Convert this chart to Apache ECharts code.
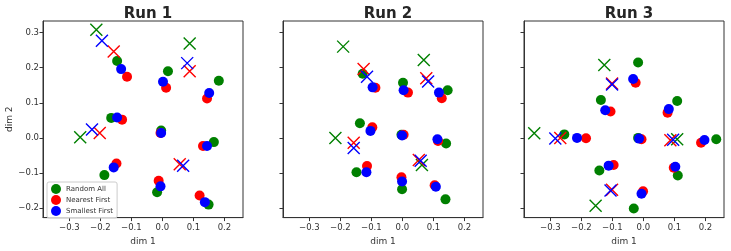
<!DOCTYPE html>
<html><head><meta charset="utf-8">
<script src="https://cdn.jsdelivr.net/npm/echarts@6/dist/echarts.min.js"></script>
<style>html,body{margin:0;padding:0;background:#fff}#c{width:731px;height:251px}</style>
</head><body><div id="c"></div>
<script>
const runTitles = ['Run 1', 'Run 2', 'Run 3'];
const methodNames = ['Random All', 'Nearest First', 'Smallest First'];
const methodColors = ['#008000', '#ff0000', '#0000ff'];
const xTicks = [-0.3, -0.2, -0.1, 0.0, 0.1, 0.2];
const yTicks = [-0.2, -0.1, 0.0, 0.1, 0.2, 0.3];

// Run 1
const run1RandomPts = [[-0.146,0.219],[0.018,0.190],[0.182,0.163],[-0.165,0.057],[-0.004,0.021],[0.166,-0.012],[-0.187,-0.106],[-0.017,-0.155],[0.149,-0.190]];
const run1NearestPts = [[-0.114,0.174],[0.012,0.143],[0.144,0.112],[-0.130,0.052],[-0.006,0.014],[0.131,-0.023],[-0.148,-0.073],[-0.012,-0.122],[0.120,-0.164]];
const run1SmallestPts = [[-0.133,0.196],[0.002,0.160],[0.151,0.128],[-0.146,0.058],[-0.004,0.014],[0.144,-0.023],[-0.157,-0.084],[-0.006,-0.138],[0.137,-0.183]];
const run1RandomCtr = [[-0.213,0.308],[0.088,0.269],[-0.265,0.002]];
const run1NearestCtr = [[-0.157,0.246],[0.088,0.190],[-0.202,0.014],[0.056,-0.075]];
const run1SmallestCtr = [[-0.195,0.277],[0.080,0.213],[-0.227,0.024],[0.067,-0.079]];

// Run 2
const run2RandomPts = [[-0.128,0.183],[0.002,0.157],[0.146,0.136],[-0.137,0.042],[-0.003,0.009],[0.141,-0.016],[-0.148,-0.098],[-0.001,-0.146],[0.139,-0.175]];
const run2NearestPts = [[-0.087,0.143],[0.018,0.129],[0.127,0.113],[-0.097,0.030],[0.004,0.009],[0.115,-0.009],[-0.114,-0.080],[-0.003,-0.112],[0.104,-0.135]];
const run2SmallestPts = [[-0.096,0.144],[0.004,0.136],[0.118,0.129],[-0.103,0.020],[-0.001,0.007],[0.113,-0.004],[-0.116,-0.098],[-0.001,-0.124],[0.108,-0.139]];
const run2RandomCtr = [[-0.191,0.260],[0.069,0.222],[-0.216,0.000],[0.063,-0.077]];
const run2NearestCtr = [[-0.125,0.196],[0.077,0.170],[-0.157,-0.014],[0.053,-0.063]];
const run2SmallestCtr = [[-0.114,0.174],[0.083,0.161],[-0.157,-0.029],[0.059,-0.065]];

// Run 3
const run3RandomPts = [[-0.017,0.215],[0.109,0.105],[-0.137,0.108],[-0.255,0.010],[-0.017,0.000],[0.235,-0.004],[0.111,-0.107],[-0.142,-0.093],[-0.031,-0.201]];
const run3NearestPts = [[-0.025,0.157],[0.078,0.072],[-0.106,0.075],[-0.185,-0.001],[-0.006,-0.004],[0.186,-0.014],[0.098,-0.085],[-0.096,-0.077],[-0.001,-0.152]];
const run3SmallestPts = [[-0.033,0.168],[0.082,0.082],[-0.123,0.079],[-0.214,0.000],[-0.014,-0.002],[0.197,-0.006],[0.103,-0.082],[-0.112,-0.079],[-0.006,-0.159]];
const run3RandomCtr = [[-0.126,0.208],[-0.352,0.013],[0.109,-0.004],[-0.154,-0.193]];
const run3NearestCtr = [[-0.101,0.155],[-0.268,0.000],[0.087,-0.007],[-0.101,-0.148]];
const run3SmallestCtr = [[-0.101,0.152],[-0.284,-0.002],[0.096,-0.005],[-0.106,-0.150]];

const runPts = [[run1RandomPts, run1NearestPts, run1SmallestPts],[run2RandomPts, run2NearestPts, run2SmallestPts],[run3RandomPts, run3NearestPts, run3SmallestPts]];
const runCtr = [[run1RandomCtr, run1NearestCtr, run1SmallestCtr],[run2RandomCtr, run2NearestCtr, run2SmallestCtr],[run3RandomCtr, run3NearestCtr, run3SmallestCtr]];

const lefts = [43, 283, 524];
const fam = 'DejaVu Sans';
const fmt = v => { const s = Math.abs(v) < 1e-9 ? '0.0' : Math.abs(v).toFixed(1); return v < -1e-9 ? '\u2212' + s : s; };

const grids = [], xAxes = [], yAxes = [], titles = [], series = [];
for (let i = 0; i < 3; i++) {
  grids.push({left: lefts[i], top: 21, width: 200, height: 199, show: true, borderColor: '#333', borderWidth: 1, backgroundColor: '#fff'});
  titles.push({text: runTitles[i], left: lefts[i] + 100, top: 2, textAlign: 'center', textStyle: {fontFamily: fam, fontWeight: 'bold', fontSize: 15, color: '#262626'}});
  xAxes.push({gridIndex: i, type: 'value', position: 'bottom', min: -0.385, max: 0.26, splitLine: {show: false},
    axisLine: {show: true, onZero: false, lineStyle: {color: '#333', width: 1}},
    axisTick: {show: true, length: 3.5, inside: false, lineStyle: {color: '#333'}, customValues: xTicks},
    axisLabel: {show: true, fontFamily: fam, fontSize: 8.5, color: '#333', margin: 5.5, customValues: xTicks, formatter: fmt},
    name: 'dim 1', nameLocation: 'middle', nameGap: 18, nameTextStyle: {fontFamily: fam, fontSize: 9, color: '#333'}});
  yAxes.push({gridIndex: i, type: 'value', position: 'left', min: -0.227, max: 0.333, splitLine: {show: false},
    axisLine: {show: true, onZero: false, lineStyle: {color: '#333', width: 1}},
    axisTick: {show: true, length: 3.5, inside: false, lineStyle: {color: '#333'}, customValues: yTicks},
    axisLabel: {show: i === 0, fontFamily: fam, fontSize: 8.5, color: '#333', margin: 4, customValues: yTicks, formatter: fmt},
    name: i === 0 ? 'dim 2' : '', nameLocation: 'middle', nameGap: 27, nameRotate: 90, nameTextStyle: {fontFamily: fam, fontSize: 9, color: '#333'}});
  for (let m = 0; m < 3; m++) {
    series.push({type: 'scatter', name: methodNames[m], xAxisIndex: i, yAxisIndex: i, data: runPts[i][m], symbol: 'circle', symbolSize: 10,
      itemStyle: {color: methodColors[m], opacity: 1}, z: 2 + m, silent: true, emphasis: {disabled: true}});
  }
  for (let m = 0; m < 3; m++) {
    series.push({type: 'scatter', name: 'ctr' + m, xAxisIndex: i, yAxisIndex: i, data: runCtr[i][m], symbol: 'path://M0,0L10,10M10,0L0,10', symbolSize: 12,
      itemStyle: {color: 'transparent', borderColor: methodColors[m], borderWidth: 1.4, opacity: 1}, z: 6 + m, silent: true, emphasis: {disabled: true}});
  }
}

const chart = echarts.init(document.getElementById('c'), null, {renderer: 'canvas'});
chart.setOption({
  animation: false,
  backgroundColor: '#fff',
  title: titles,
  grid: grids, xAxis: xAxes, yAxis: yAxes, series: series,
  legend: {data: methodNames, left: 47, top: 182, orient: 'vertical', icon: 'circle', itemWidth: 10, itemHeight: 10, itemGap: 1,
    padding: [2, 4, 2, 4], borderColor: '#ccc', borderWidth: 1, borderRadius: 2, backgroundColor: 'rgba(255,255,255,0.8)',
    textStyle: {fontFamily: fam, fontSize: 7, color: '#333'}, selectedMode: false}
});
</script></body></html>
